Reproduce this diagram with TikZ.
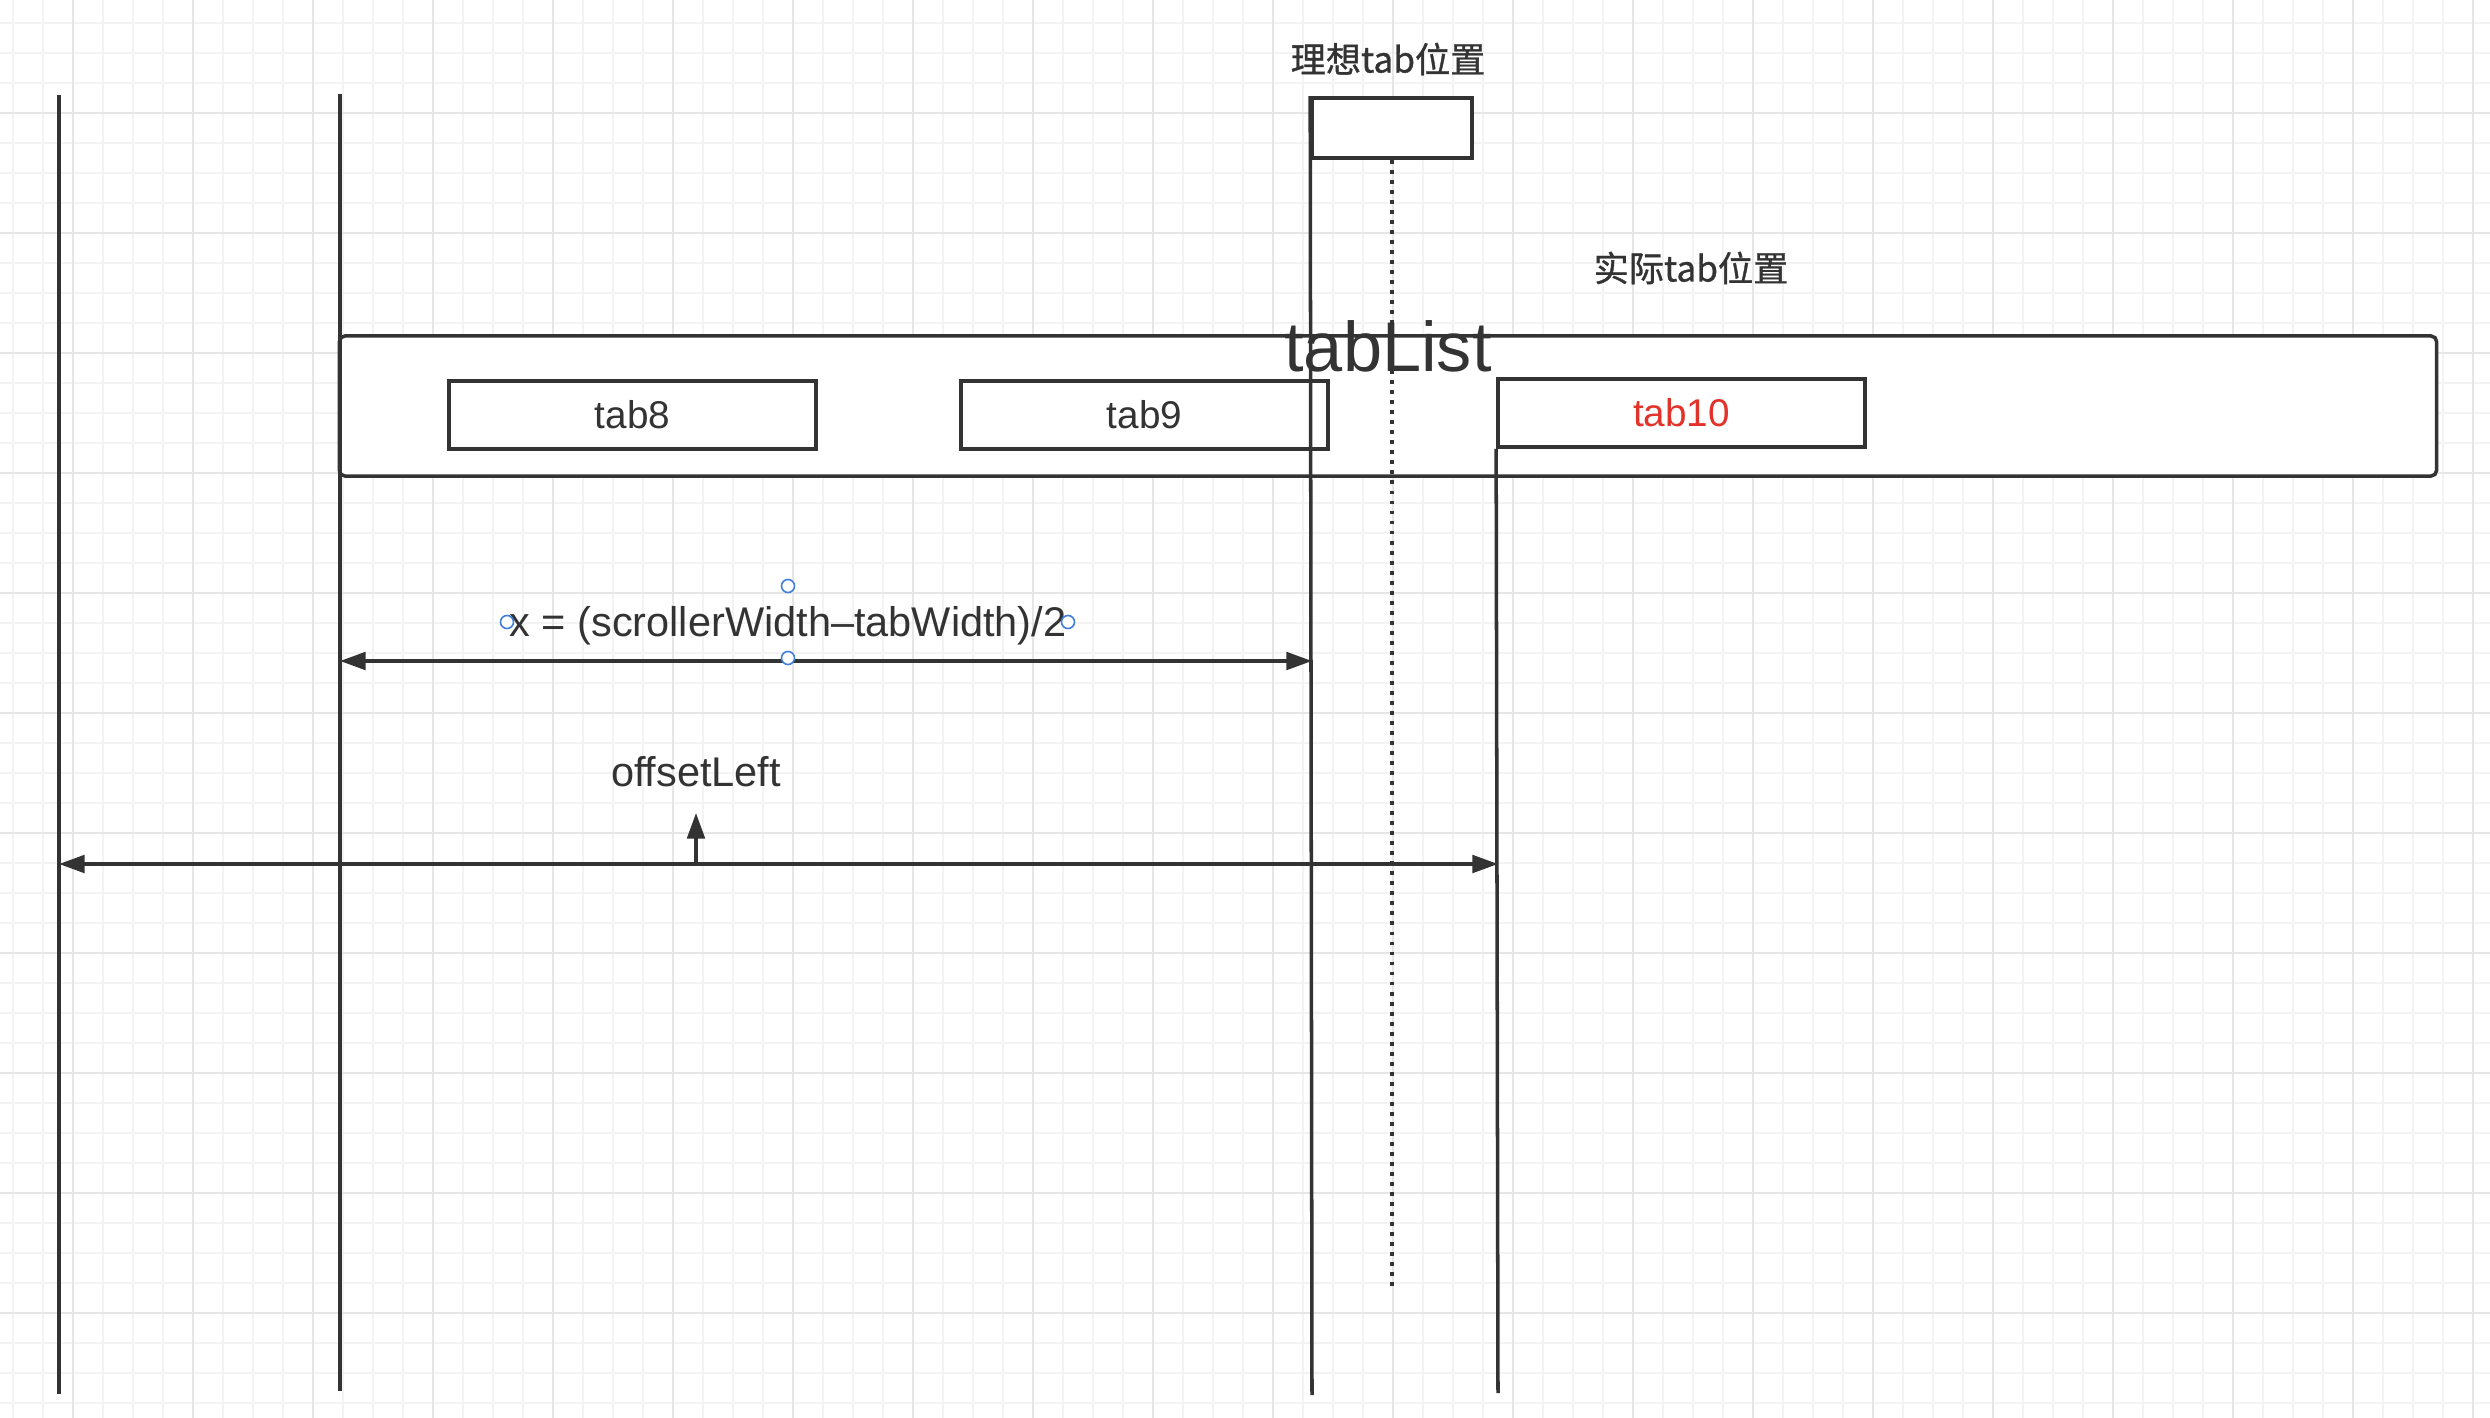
\documentclass[tikz,border=0pt]{standalone}
\usepackage{fontspec}
\setmainfont{Liberation Sans}
\newfontfamily\cjk[FakeBold=0.9]{Noto Sans CJK SC}
\usetikzlibrary{arrows.meta}
\definecolor{ink}{HTML}{333333}
\definecolor{gridminor}{HTML}{F3F3F3}
\definecolor{gridmajor}{HTML}{E6E6E6}
\definecolor{tabred}{HTML}{E2332B}
\definecolor{handle}{HTML}{3F7FDB}
\tikzset{
  lifeline/.style={draw=ink, line width=1pt},
  tabbox/.style={draw=ink, line width=1pt, fill=white, minimum width=3.67cm, minimum height=0.68cm, inner sep=0pt, text=ink, font=\fontsize{11}{13}\selectfont},
  txt/.style={text=ink, inner sep=0pt},
  dimline/.style={draw=ink, line width=1pt, {Triangle[length=7.3pt,width=5pt]}-{Triangle[length=7.3pt,width=5pt]}},
  selhandle/.style={draw=handle, fill=white, line width=0.45pt, circle, minimum size=0.13cm, inner sep=0pt},
}

\begin{document}
\begin{tikzpicture}[x=0.01cm, y=-0.01cm]
    \useasboundingbox (0,0) rectangle (2490,1418);
    \fill[white] (0,0) rectangle (2490,1418);
    \foreach \x in {13.3,43.3,...,2490} \draw[gridminor, line width=0.5pt] (\x,0) -- (\x,1418);
    \foreach \y in {23.3,53.3,...,1418} \draw[gridminor, line width=0.5pt] (0,\y) -- (2490,\y);
    \foreach \x in {73.3,193.3,...,2490} \draw[gridmajor, line width=0.5pt] (\x,0) -- (\x,1418);
    \foreach \y in {113.3,233.3,...,1418} \draw[gridmajor, line width=0.5pt] (0,\y) -- (2490,\y);

    \node[draw=ink, line width=1pt, fill=white, rounded corners=1.6pt, minimum width=20.96cm, minimum height=1.4cm] (tablist) at (1388,406) {};
    \node[tabbox] (tab8) at (632.5,415) {tab8};
    \node[tabbox] (tab9) at (1144.5,415) {tab9};
    \node[tabbox, text=tabred] (tab10) at (1681.5,413) {tab10};

    \coordinate (atop) at (59,95);
    \coordinate (abot) at (59,1394);
    \coordinate (btop) at (340,94);
    \coordinate (bbot) at (340,1391);
    \coordinate (cbot) at (1312,1395);
    \coordinate (dbot) at (1498,1393);
    \coordinate (dotbot) at (1392,1291);
    \node[draw=ink, line width=1pt, fill=white, minimum width=1.6cm, minimum height=0.6cm] (ideal) at (1392,128) {};
    \draw[lifeline] (atop) -- (abot);
    \draw[lifeline] (btop) -- (bbot);
    \draw[lifeline] (ideal.north west) -- (cbot);
    \draw[lifeline] (tab10.south west) -- (dbot);
    \draw[draw=ink, line width=1.1pt, dash pattern=on 1.1pt off 1.75pt] (ideal.south) -- (dotbot);

    \node[txt, font=\cjk\fontsize{10}{12}\selectfont] (idealtxt) at (1388,59) {理想tab位置};
    \node[txt, font=\cjk\fontsize{10}{12}\selectfont] (realtxt) at (1691,268) {实际tab位置};
    \node[txt, anchor=base, font=\fontsize{20}{24}\selectfont] (listtxt) at (1388,371) {tabList};

    \coordinate (xl) at (340,661);
    \coordinate (xr) at (1312,661);
    \draw[dimline] (xl) -- (xr);
    \node[txt, font=\fontsize{11.8}{14}\selectfont] (formula) at (788,626) {x = (scrollerWidth–tabWidth)/2};
    \node[selhandle] (h1) at (788,586) {};
    \node[selhandle] (h2) at (507,622) {};
    \node[selhandle] (h3) at (1068,622) {};
    \node[selhandle] (h4) at (788,658) {};

    \coordinate (ol) at (59,864);
    \coordinate (or) at (1498,864);
    \coordinate (ostem) at (696,864);
    \coordinate (otip) at (696,813);
    \draw[dimline] (ol) -- (or);
    \draw[draw=ink, line width=1pt, -{Triangle[length=7.3pt,width=5pt]}] (ostem) -- (otip);
    \node[txt, font=\fontsize{11.8}{14}\selectfont] (offset) at (696,772) {offsetLeft};
\end{tikzpicture}
\end{document}
